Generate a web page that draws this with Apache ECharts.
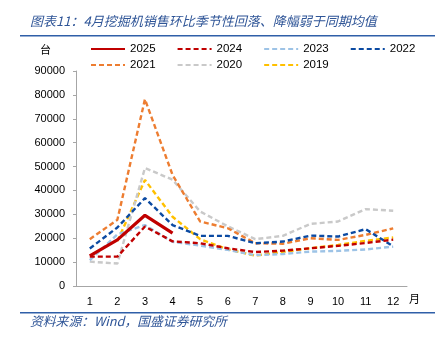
<!DOCTYPE html>
<html>
<head>
<meta charset="utf-8">
<script src="https://cdn.jsdelivr.net/npm/echarts@6/dist/echarts.min.js"></script>
<style>
  html, body { margin: 0; padding: 0; background: #fff; }
  #chart { width: 443px; height: 345px; }
</style>
</head>
<body>
<div id="chart"></div>
<script>
// Monthly excavator sales (units), Jan–Dec
const months = ['1', '2', '3', '4', '5', '6', '7', '8', '9', '10', '11', '12'];
const yTicks = [0, 10000, 20000, 30000, 40000, 50000, 60000, 70000, 80000, 90000];

const s2025 = [12600, 19300, 29600, 22100, null, null, null, null, null, null, null, null];
const s2024 = [12300, 12300, 24900, 18700, 17900, 15800, 14200, 14800, 15800, 16800, 18000, 19400];
const s2023 = [10800, 21600, 25500, 18500, 16900, 15100, 12900, 13400, 14400, 14700, 15300, 16500];
const s2022 = [15700, 24500, 36800, 25500, 21000, 21000, 17900, 18600, 21100, 20700, 23800, 16600];
const s2021 = [19600, 27700, 78200, 46500, 27000, 24200, 17900, 17700, 20000, 19300, 21400, 24100];
const s2020 = [10200, 9400, 49400, 44500, 31200, 25000, 19600, 21000, 26000, 27000, 32200, 31500];
const s2019 = [null, 18800, 44400, 29000, 19600, 15400, 12700, 14300, 15800, 17200, 18900, 20300];

const seriesNames = ['2025', '2024', '2023', '2022', '2021', '2020', '2019'];
const seriesData = [s2025, s2024, s2023, s2022, s2021, s2020, s2019];
const seriesColors = ['#c00000', '#c00000', '#9dc3e6', '#0b4aa2', '#ed7d31', '#c9c9c9', '#ffc000'];

const chart = echarts.init(document.getElementById('chart'), null, { renderer: 'canvas' });

const series = seriesNames.map((name, i) => ({
  name: name,
  type: 'line',
  data: seriesData[i],
  symbol: 'none',
  connectNulls: false,
  z: 10 - i,
  lineStyle: {
    color: seriesColors[i],
    width: i === 0 ? 3.2 : 2.4,
    type: i === 0 ? 'solid' : [5, 3]
  },
  itemStyle: { color: seriesColors[i] }
}));

const blue = '#2f5597';
const legendText = { fontFamily: 'Liberation Sans, Arial, sans-serif', fontSize: 11.5, color: '#000' };
const legendBase = {
  left: 90,
  orient: 'horizontal',
  itemWidth: 34,
  itemHeight: 10,
  itemGap: 21,
  padding: 0,
  itemStyle: { opacity: 0 },
  textStyle: legendText
};

chart.setOption({
  animation: false,
  backgroundColor: '#fff',
  grid: { left: 76, right: 36, top: 71, bottom: 59, containLabel: false },
  legend: [
    Object.assign({}, legendBase, { top: 43, data: seriesNames.slice(0, 4) }),
    Object.assign({}, legendBase, { top: 59, data: seriesNames.slice(4) })
  ],
  xAxis: {
    type: 'category',
    data: months,
    boundaryGap: true,
    axisLine: { lineStyle: { color: '#a6a6a6', width: 1 } },
    axisTick: { show: false },
    axisLabel: { color: '#000', fontSize: 11, fontFamily: 'Liberation Sans, Arial, sans-serif', margin: 10 }
  },
  yAxis: {
    type: 'value',
    min: 0,
    max: 90000,
    interval: 10000,
    axisLine: { show: true, lineStyle: { color: '#a6a6a6', width: 1 } },
    axisTick: { show: true, length: 3, lineStyle: { color: '#a6a6a6' } },
    splitLine: { show: false },
    axisLabel: {
      color: '#000', fontSize: 11, fontFamily: 'Liberation Sans, Arial, sans-serif', margin: 11,
      formatter: v => yTicks.includes(v) ? String(v) : ''
    }
  },
  series: series,
  graphic: [
    {
      type: 'text', left: 30, top: 15,
      style: {
        text: '图表11：4月挖掘机销售环比季节性回落、降幅弱于同期均值',
        fill: blue, fontSize: 13, fontStyle: 'italic',
        fontFamily: 'Noto Sans CJK SC, sans-serif'
      }
    },
    { type: 'rect', shape: { x: 20, y: 35, width: 415, height: 1.6 }, style: { fill: '#2f5fa8' } },
    {
      type: 'text', left: 40, top: 44,
      style: { text: '台', fill: '#000', fontSize: 11, fontFamily: 'Noto Sans CJK SC, sans-serif' }
    },
    {
      type: 'text', left: 409, top: 293,
      style: { text: '月', fill: '#000', fontSize: 11, fontFamily: 'Noto Sans CJK SC, sans-serif' }
    },
    { type: 'rect', shape: { x: 20, y: 312, width: 415, height: 1.4 }, style: { fill: '#2f5fa8' } },
    {
      type: 'text', left: 30, top: 315,
      style: {
        text: '资料来源：Wind，国盛证券研究所',
        fill: blue, fontSize: 12.8, fontStyle: 'italic',
        fontFamily: 'Noto Sans CJK SC, sans-serif'
      }
    }
  ]
});
</script>
</body>
</html>
